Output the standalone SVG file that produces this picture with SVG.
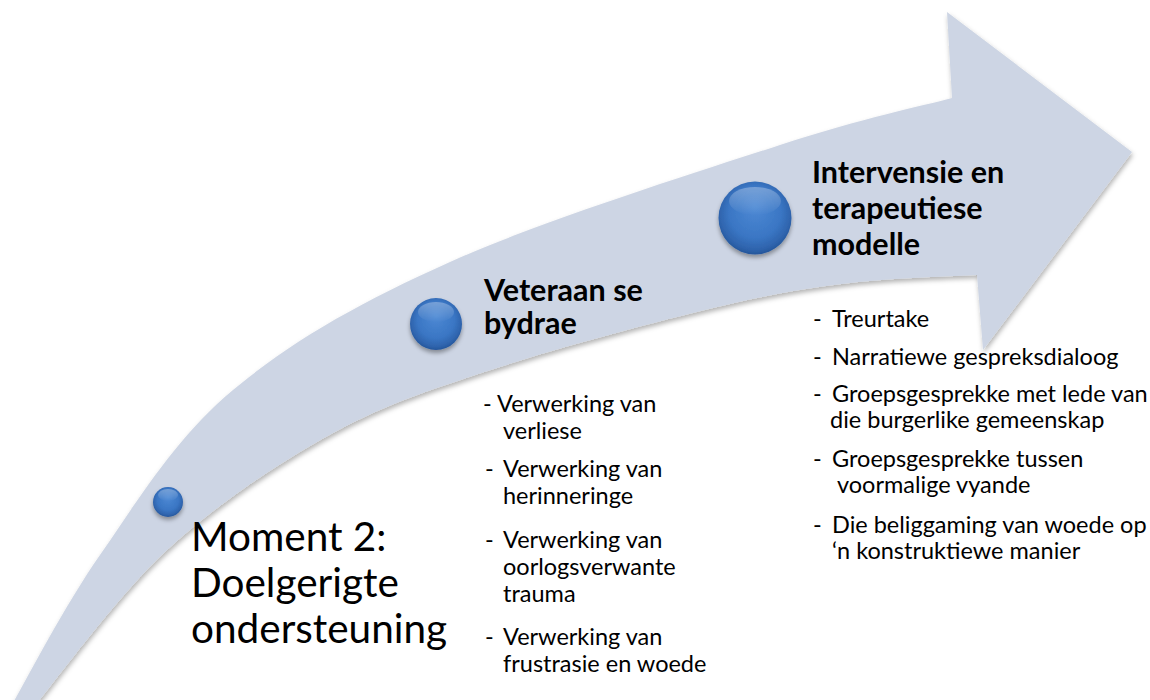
<svg xmlns="http://www.w3.org/2000/svg" width="1150" height="700" viewBox="0 0 1150 700">
<style>
text{font-family:Lato,"Open Sans","Liberation Sans",sans-serif;fill:#000}
.big{font-size:40.5px}
.head{font-size:30.5px;font-weight:bold}
.item{font-size:23.5px}
</style>
<defs>
<filter id="shadow" x="-10%" y="-10%" width="120%" height="130%">
<feDropShadow dx="1" dy="3" stdDeviation="2.5" flood-color="#000" flood-opacity="0.3"/>
</filter>
<filter id="ballShadow" x="-40%" y="-40%" width="180%" height="180%">
<feDropShadow dx="0" dy="3" stdDeviation="2" flood-color="#000" flood-opacity="0.35"/>
</filter>
<radialGradient id="ball" cx="50%" cy="45%" r="55%" fx="50%" fy="35%">
<stop offset="0" stop-color="#4d89d4"/>
<stop offset="0.65" stop-color="#3a76c4"/>
<stop offset="0.9" stop-color="#2e63ac"/>
<stop offset="1" stop-color="#24559a"/>
</radialGradient>
<linearGradient id="gloss" x1="0" y1="0" x2="0" y2="1">
<stop offset="0" stop-color="#ffffff" stop-opacity="0.3"/>
<stop offset="1" stop-color="#ffffff" stop-opacity="0"/>
</linearGradient>
</defs>
<rect width="1150" height="700" fill="#ffffff"/>
<g id="timeline-arrow">
<path filter="url(#shadow)" fill="#cdd5e4" d="M8,712 C23.3,685.8 62.5,608.7 100,555 C137.5,501.3 174.7,438.8 233,390 C291.3,341.2 358.8,302.8 450,262 C541.2,221.2 696.3,172.3 780,145 C863.7,117.7 923.3,105.8 952,98 L947,12 L1132,152 L983,350 L977,275 C955.8,276.3 893.3,277.7 850,283 C806.7,288.3 775.3,293 717,307 C658.7,321 564,346 500,367 C436,388 388.5,402.5 333,433 C277.5,463.5 217.5,503.5 167,550 C116.5,596.5 52.8,685 30,712 Z"/>
</g>
<g id="connectors"></g>
<g id="node-moment">
<circle cx="168" cy="502" r="15" fill="url(#ball)" filter="url(#ballShadow)"/>
<ellipse cx="168" cy="495" rx="10" ry="6" fill="url(#gloss)"/>
<text class="big" x="191" y="551">Moment 2:</text>
<text class="big" x="191" y="597">Doelgerigte</text>
<text class="big" x="191" y="643">ondersteuning</text>
</g>
<g id="node-veteraan">
<circle cx="436" cy="324" r="26" fill="url(#ball)" filter="url(#ballShadow)"/>
<ellipse cx="436" cy="312" rx="18" ry="10" fill="url(#gloss)"/>
<text class="head" x="484" y="301">Veteraan se</text>
<text class="head" x="484" y="334">bydrae</text>
<text class="item" x="483" y="412">-</text><text class="item" x="497" y="412">Verwerking van</text>
<text class="item" x="503" y="438.5">verliese</text>
<text class="item" x="485" y="477">-</text><text class="item" x="503" y="477">Verwerking van</text>
<text class="item" x="503" y="503.5">herinneringe</text>
<text class="item" x="485" y="548">-</text><text class="item" x="503" y="548">Verwerking van</text>
<text class="item" x="503" y="575">oorlogsverwante</text>
<text class="item" x="503" y="602">trauma</text>
<text class="item" x="485" y="645">-</text><text class="item" x="503" y="645">Verwerking van</text>
<text class="item" x="503" y="672">frustrasie en woede</text>
</g>
<g id="node-intervensie">
<circle cx="755" cy="218" r="36.5" fill="url(#ball)" filter="url(#ballShadow)"/>
<ellipse cx="755" cy="201" rx="26" ry="14" fill="url(#gloss)"/>
<text class="head" x="812" y="183">Intervensie en</text>
<text class="head" x="812" y="219">terapeutiese</text>
<text class="head" x="812" y="255">modelle</text>
<text class="item" x="813" y="327">-</text><text class="item" x="832" y="327">Treurtake</text>
<text class="item" x="813" y="365">-</text><text class="item" x="832" y="365">Narratiewe gespreksdialoog</text>
<text class="item" x="813" y="402">-</text><text class="item" x="832" y="402">Groepsgesprekke met lede van</text>
<text class="item" x="830" y="428">die burgerlike gemeenskap</text>
<text class="item" x="813" y="467">-</text><text class="item" x="832" y="467">Groepsgesprekke tussen</text>
<text class="item" x="837" y="493">voormalige vyande</text>
<text class="item" x="813" y="533">-</text><text class="item" x="832" y="533">Die beliggaming van woede op</text>
<text class="item" x="832" y="559">‘n konstruktiewe manier</text>
</g>
</svg>
